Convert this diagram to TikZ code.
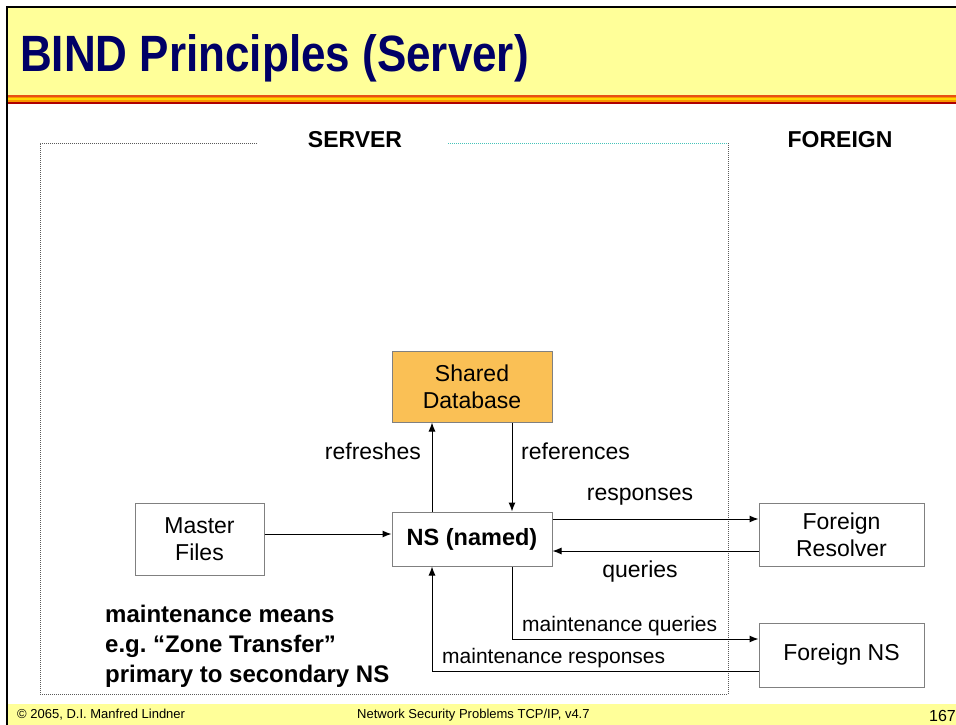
\documentclass[tikz,border=0pt]{standalone}
\usepackage{fontspec}
\setmainfont{Liberation Sans}
\usetikzlibrary{arrows.meta}
\frenchspacing
\definecolor{slideyellow}{RGB}{255,255,153}
\definecolor{titleblue}{RGB}{0,0,102}
\definecolor{dbfill}{RGB}{250,192,85}
\definecolor{boxgray}{RGB}{128,128,128}
\definecolor{dotgray}{RGB}{90,90,90}
\definecolor{dotteal}{RGB}{70,195,185}
\definecolor{stripeA}{RGB}{232,80,20}
\definecolor{stripeB}{RGB}{248,150,0}
\definecolor{stripeC}{RGB}{255,215,0}
\definecolor{stripeD}{RGB}{175,0,0}
\tikzset{
  boxnode/.style={draw=boxgray, line width=1pt, fill=white, inner sep=0pt, align=center,
    font=\fontsize{23}{27}\selectfont},
  conn/.style={line width=1pt, draw=black},
  arr/.style={conn, -{Latex[length=9pt,width=7pt]}},
  lbl/.style={font=\fontsize{23}{27}\selectfont, inner sep=0pt},
  smalllbl/.style={font=\fontsize{21}{25}\selectfont, inner sep=0pt},
  dotline/.style={line width=1pt, dash pattern=on 1pt off 1pt},
}
\begin{document}
\begin{tikzpicture}[x=1pt,y=-1pt]
\useasboundingbox (0,0) rectangle (956,725);
\fill[white] (0,0) rectangle (956,725);
% header band
\fill[slideyellow] (7,8) rectangle (956,95);
\fill[stripeA] (7,95) rectangle (956,96.7);
\fill[stripeB] (7,96.7) rectangle (956,98.3);
\fill[stripeC] (7,98.3) rectangle (956,100);
\fill[stripeB] (7,100) rectangle (956,101.7);
\fill[stripeD] (7,101.7) rectangle (956,104);
% footer band
\fill[slideyellow] (7,704) rectangle (956,725);
% borders
\draw[line width=2pt, black] (6.5,725) -- (6.5,7) -- (956,7);
% title
\node[anchor=base west, inner sep=0pt, text=titleblue, font=\bfseries\fontsize{44}{50}\selectfont]
  (title) at (20,72) {\scalebox{1}[1.16]{BIND Principles (Server)}};
% footer texts
\node[anchor=west, inner sep=0pt, font=\fontsize{13}{15}\selectfont] (foot1) at (17,715) {© 2065, D.I. Manfred Lindner};
\node[anchor=west, inner sep=0pt, font=\fontsize{13}{15}\selectfont] (foot2) at (357,715) {Network Security Problems TCP/IP, v4.7};
\node[anchor=east, inner sep=0pt, font=\fontsize{16}{18}\selectfont] (foot3) at (956,716) {167};
% server region
\draw[dotline, dotgray] (257,143) -- (40,143) -- (40,694) -- (728,694) -- (728,143);
\draw[dotline, dotteal] (448,143) -- (728,143);
\node[lbl, font=\bfseries\fontsize{23}{27}\selectfont] (server) at (355,140) {SERVER};
\node[lbl, font=\bfseries\fontsize{23}{27}\selectfont] (foreign) at (840,140) {FOREIGN};
% nodes
\node[boxnode, fill=dbfill, minimum width=160pt, minimum height=71pt] (db) at (472,386.5) {Shared\\Database};
\node[boxnode, minimum width=160pt, minimum height=54pt, font=\bfseries\fontsize{23.5}{27}\selectfont] (ns) at (472,539) {NS (named)};
\node[boxnode, minimum width=129pt, minimum height=72pt] (mf) at (199.5,539) {Master\\Files};
\node[boxnode, minimum width=165pt, minimum height=63pt] (fr) at (841.5,534.5) {Foreign\\Resolver};
\node[boxnode, minimum width=165pt, minimum height=64pt] (fns) at (841.5,655) {Foreign NS};
% connectors
\draw[arr] ([yshift=5pt]mf.east) -- ([yshift=5pt]mf.east -| ns.west);
\draw[arr] ([xshift=-40pt]ns.north) -- ([xshift=-40pt]db.south);
\draw[arr] ([xshift=40pt]db.south) -- ([xshift=40pt]ns.north);
\draw[arr] ([yshift=20pt]ns.east) -- ([yshift=20pt]ns.east -| fr.west);
\draw[arr] ([yshift=-12pt]ns.east -| fr.west) -- ([yshift=-12pt]ns.east);
\draw[arr] ([xshift=40pt]ns.south) |- ([yshift=16pt]fns.west);
\draw[arr] ([yshift=-16pt]fns.west) -| ([xshift=-40pt]ns.south);
% labels
\node[lbl, anchor=east] (lref) at (421,451) {refreshes};
\node[lbl, anchor=west] (lrefs) at (521,451) {references};
\node[lbl] (lresp) at (640,497) {responses};
\node[lbl] (lq) at (640,572) {queries};
\node[smalllbl, anchor=west] (lmq) at (522,626) {maintenance queries};
\node[smalllbl, anchor=west] (lmr) at (442,658) {maintenance responses};
\node[anchor=base west, inner sep=0pt, align=left, font=\bfseries\fontsize{24}{30}\selectfont] (note) at (105,682)
  {maintenance means\\e.g. “Zone Transfer”\\primary to secondary NS};
\end{tikzpicture}
\end{document}
